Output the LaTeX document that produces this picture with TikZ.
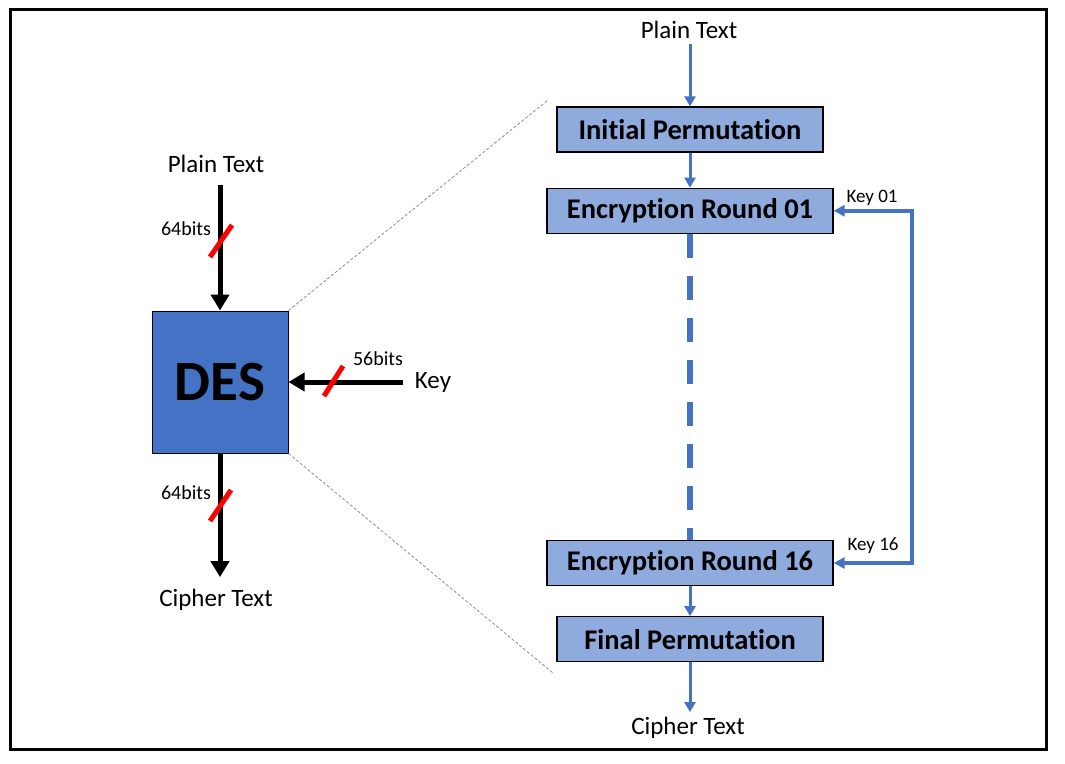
\documentclass[tikz,border=0pt]{standalone}
\usepackage{fontspec}
\setmainfont{Carlito}[Ligatures=NoCommon]
\usetikzlibrary{arrows.meta,positioning}
\definecolor{desblue}{HTML}{4472C4}
\definecolor{roundblue}{HTML}{8FAADC}

\tikzset{
  basic/.style    = {draw, rectangle, text centered, inner sep=0pt, line width=1.3pt},
  desbox/.style   = {basic, fill=desblue, line width=1pt, minimum width=136pt, minimum height=142pt, font=\fontsize{57}{60}\selectfont\bfseries},
  permbox/.style  = {basic, fill=roundblue, minimum width=266pt, minimum height=45pt, font=\fontsize{28.5}{32}\selectfont\bfseries},
  roundbox/.style = {permbox, minimum width=286pt},
  plain/.style    = {inner sep=12pt, font=\fontsize{25}{30}\selectfont},
  flowtxt/.style  = {plain, inner sep=5pt},
  bits/.style     = {inner sep=0pt, font=\fontsize{20}{24}\selectfont},
  keylbl/.style   = {inner sep=0pt, font=\fontsize{19}{23}\selectfont},
  bigarrow/.style = {-{Triangle[width=18pt,length=16pt]}, line width=5pt},
  flow/.style     = {-{Triangle[width=11pt,length=10pt]}, desblue, line width=3pt},
  keyflow/.style  = {<->, >={Triangle[width=11pt,length=11pt]}, desblue, line width=4pt},
  slash/.style    = {red, line width=5pt},
  zoomline/.style = {gray, line width=0.7pt, dash pattern=on 3pt off 2pt}
}

\begin{document}
\begin{tikzpicture}[x=1pt, y=-1pt]
\useasboundingbox (0,0) rectangle (1065,763);
\draw[line width=3pt] (10.5,9.5) rectangle (1046,749);

% left side, the DES block
\node[desbox] (des) at (220,382) {DES};
\node[plain] (ptl) at (216,164) {Plain Text};
\node[plain] (ctl) at (216,600) {Cipher Text};
\node[plain] (key) at (433,382) {Key};

\draw[bigarrow] (ptl.south -| des.north) -- (des.north);
\draw[bigarrow] (des.south) -- (des.south |- ctl.north);
\draw[bigarrow] (key.west) -- (des.east);

% bit widths
\draw[slash] (210,257) -- (232,225);
\draw[slash] (210,521) -- (231,490);
\draw[slash] (324,396) -- (343,366);
\node[bits] at (186,229) {64bits};
\node[bits] at (186,493) {64bits};
\node[bits] at (378,359) {56bits};

% zoom lines
\coordinate (ztop) at (548,100);
\coordinate (zbot) at (553,673);
\draw[zoomline] (des.north east) -- (ztop);
\draw[zoomline] (des.south east) -- (zbot);

% right side, the rounds
\node[permbox] (init) at (690,129.5) {Initial Permutation};
\node[roundbox, below=35pt of init] (r01) {Encryption Round 01};
\node[roundbox] (r16) at (690,563) {Encryption Round 16};
\node[permbox, below=30pt of r16] (final) {Final Permutation};
\node[flowtxt] (ptr) at (689,30) {Plain Text};
\node[flowtxt] (ctr) at (688,728) {Cipher Text};

\foreach \a/\b in {ptr/init, init/r01, r16/final, final/ctr}
  \draw[flow] (\a.south -| init) -- (\b.north -| init);

\draw[desblue, line width=6pt, dash pattern=on 24pt off 18pt] (r01.south) -- (r16.north);

% round keys
\coordinate (kbend) at ([xshift=78pt]r01.east);
\draw[keyflow] (r01.east) -- (kbend) |- (r16.east);
\node[keylbl] at (872,198) {Key 01};
\node[keylbl] at (873,546) {Key 16};
\end{tikzpicture}
\end{document}
